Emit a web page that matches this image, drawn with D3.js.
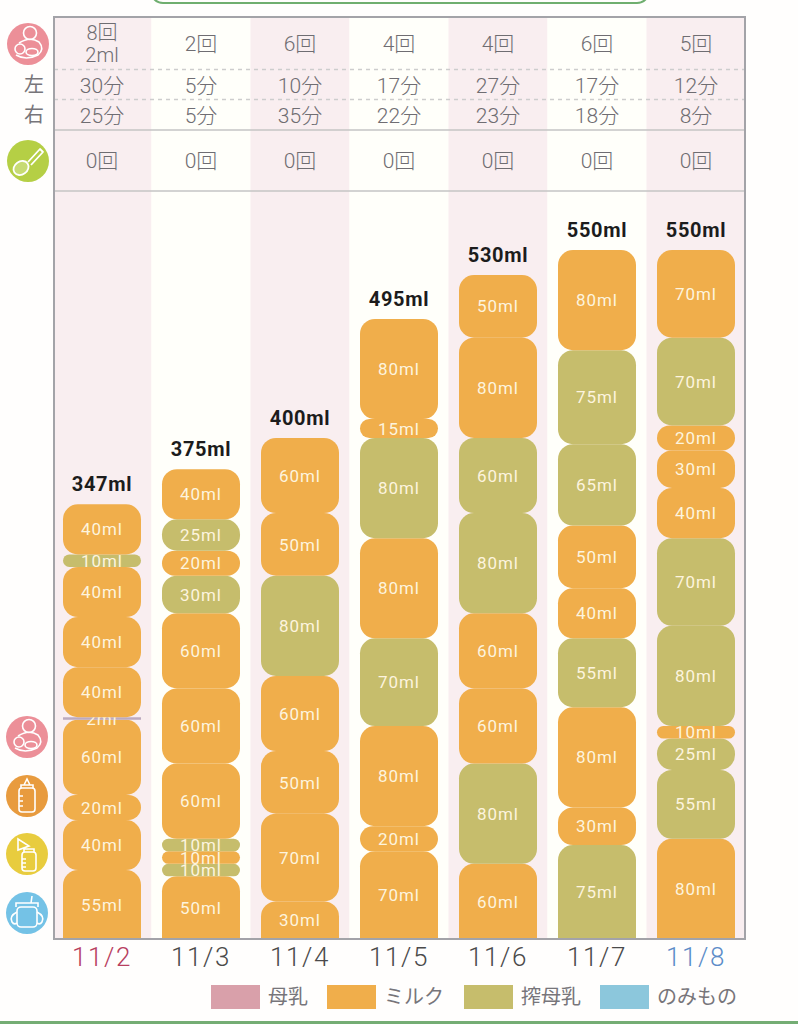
<!DOCTYPE html>
<html>
<head>
<meta charset="utf-8">
<script src="https://cdn.jsdelivr.net/npm/d3@7"></script>
<style>
  html, body { margin: 0; padding: 0; background: #fffefd; }
  svg { display: block; }
  text { font-family: Roboto, "Noto Sans CJK JP", sans-serif; }
</style>
</head>
<body>
<div id="chart"></div>
<script>
// data
var dates = ['11/2', '11/3', '11/4', '11/5', '11/6', '11/7', '11/8'];
var nursingCounts = ['8回', '2回', '6回', '4回', '4回', '6回', '5回'];
var leftMinutes = ['30分', '5分', '10分', '17分', '27分', '17分', '12分'];
var rightMinutes = ['25分', '5分', '35分', '22分', '23分', '18分', '8分'];
var foodCounts = ['0回', '0回', '0回', '0回', '0回', '0回', '0回'];
var totals = [347, 375, 400, 495, 530, 550, 550];

// feeds of each day, from the bottom of the stack up
// m = milk, o = expressed milk, p = breast milk
var values = [
  [55, 40, 20, 60, 2, 40, 40, 40, 10, 40],
  [50, 10, 10, 10, 60, 60, 60, 30, 20, 25, 40],
  [30, 70, 50, 60, 80, 50, 60],
  [70, 20, 80, 70, 80, 80, 15, 80],
  [60, 80, 60, 60, 80, 60, 80, 50],
  [75, 30, 80, 55, 40, 50, 65, 75, 80],
  [80, 55, 25, 10, 80, 70, 40, 30, 20, 70, 70]
];
var kinds = [
  ['m', 'm', 'm', 'm', 'p', 'm', 'm', 'm', 'o', 'm'],
  ['m', 'o', 'm', 'o', 'm', 'm', 'm', 'o', 'm', 'o', 'm'],
  ['m', 'm', 'm', 'm', 'o', 'm', 'm'],
  ['m', 'm', 'm', 'o', 'm', 'o', 'm', 'm'],
  ['m', 'o', 'm', 'm', 'o', 'o', 'm', 'm'],
  ['o', 'm', 'm', 'o', 'm', 'm', 'o', 'o', 'm'],
  ['m', 'o', 'o', 'm', 'o', 'o', 'm', 'm', 'm', 'o', 'm']
];
var legendLabels = ['母乳', 'ミルク', '搾母乳', 'のみもの'];
var legendKinds = ['p', 'm', 'o', 'd'];

var colors = { p: '#d9a0aa', m: '#f0ae4b', o: '#c6bd6c', d: '#8cc7dc' };

var svgWidth = 798;
var svgHeight = 1024;
var plot = { left: 54, right: 745, top: 17, food: 130, chart: 191, bottom: 939 };
var barWidth = 78;

var svg = d3.select('#chart').append('svg')
  .attr('width', svgWidth)
  .attr('height', svgHeight);

var xScale = d3.scaleBand().domain(dates).range([52.5, 745.5]);
var yScale = d3.scaleLinear().domain([0, 550]).range([plot.bottom, 250]);
var xCenter = d => xScale(d) + xScale.bandwidth() / 2;

svg.append('defs').append('clipPath').attr('id', 'plotClip')
  .append('rect')
  .attr('x', plot.left).attr('y', plot.top)
  .attr('width', plot.right - plot.left).attr('height', plot.bottom - plot.top);

// green frames of the surrounding app screen
svg.append('rect')
  .attr('x', 151).attr('y', -30).attr('width', 498).attr('height', 33).attr('rx', 12)
  .attr('fill', 'none').attr('stroke', '#6fae6f').attr('stroke-width', 2);
svg.append('rect')
  .attr('x', 0).attr('y', 1021).attr('width', svgWidth).attr('height', 3)
  .attr('fill', '#74ad74');

// column stripes
var plotGroup = svg.append('g').attr('clip-path', 'url(#plotClip)');
plotGroup.selectAll('rect.stripe').data(dates).enter().append('rect')
  .attr('class', 'stripe')
  .attr('x', d => xScale(d))
  .attr('y', plot.top)
  .attr('width', xScale.bandwidth())
  .attr('height', plot.bottom - plot.top)
  .attr('fill', (d, i) => i % 2 === 0 ? '#f9eef0' : '#fffffa');

// stacks, bottom up so that an upper bar covers the overflow of the label below
dates.forEach(function(date, i) {
  var sum = 0;
  var segments = values[i].map(function(v, j) {
    var seg = { value: v, kind: kinds[i][j], y0: sum, y1: sum + v };
    sum += v;
    return seg;
  });
  var dayGroup = plotGroup.append('g');
  var cells = dayGroup.selectAll('g').data(segments).enter().append('g');

  cells.append('rect')
    .attr('x', xCenter(date) - barWidth / 2)
    .attr('y', d => yScale(d.y1))
    .attr('width', barWidth)
    .attr('height', d => yScale(d.y0) - yScale(d.y1) + (d.y0 === 0 ? 16 : 0))
    .attr('rx', d => d.value <= 2 ? 0 : Math.min(15, (yScale(d.y0) - yScale(d.y1)) / 2))
    .attr('fill', d => d.kind === 'p' ? '#bcaabf' : colors[d.kind]);

  cells.append('text')
    .attr('x', xCenter(date))
    .attr('y', d => (yScale(d.y0) + yScale(d.y1)) / 2)
    .attr('dy', '0.36em')
    .attr('text-anchor', 'middle')
    .attr('font-size', 17)
    .attr('letter-spacing', 0.9)
    .attr('fill', '#fdf4de')
    .text(d => d.value + 'ml');
});

// total above each stack
svg.selectAll('text.total').data(dates).enter().append('text')
  .attr('class', 'total')
  .attr('x', d => xCenter(d))
  .attr('y', (d, i) => yScale(totals[i]) - 13)
  .attr('text-anchor', 'middle')
  .attr('font-size', 20)
  .attr('font-weight', 700)
  .attr('letter-spacing', 0.7)
  .attr('fill', '#1c1c1c')
  .text((d, i) => totals[i] + 'ml');

// table rows on top of the chart
function addRow(labels, y, size) {
  svg.append('g').selectAll('text').data(labels).enter().append('text')
    .attr('x', (d, i) => xCenter(dates[i]))
    .attr('y', y)
    .attr('dy', '0.36em')
    .attr('text-anchor', 'middle')
    .attr('font-size', size || 21)
    .attr('font-weight', 300)
    .attr('fill', '#6f6d72')
    .text(d => d);
}
addRow(nursingCounts.map((d, i) => i === 0 ? '' : d), 43);
addRow([nursingCounts[0]], 33, 20);
addRow(['2ml'], 55, 20);
addRow(leftMinutes, 85);
addRow(rightMinutes, 115);
addRow(foodCounts, 160);

[['左', 85], ['右', 115]].forEach(function(r) {
  svg.append('text')
    .attr('x', 34).attr('y', r[1]).attr('dy', '0.36em')
    .attr('text-anchor', 'middle')
    .attr('font-size', 20)
    .attr('fill', '#77757a')
    .text(r[0]);
});

// rules
[69.5, 99.5].forEach(function(y) {
  svg.append('line')
    .attr('x1', plot.left).attr('x2', plot.right).attr('y1', y).attr('y2', y)
    .attr('stroke', '#cdcdcd').attr('stroke-width', 1.5).attr('stroke-dasharray', '4 4');
});
[plot.food, plot.chart].forEach(function(y) {
  svg.append('line')
    .attr('x1', plot.left).attr('x2', plot.right).attr('y1', y).attr('y2', y)
    .attr('stroke', '#c4c4c4').attr('stroke-width', 1.5);
});
svg.append('rect')
  .attr('x', plot.left).attr('y', plot.top)
  .attr('width', plot.right - plot.left).attr('height', plot.bottom - plot.top)
  .attr('fill', 'none').attr('stroke', '#a3a3a8').attr('stroke-width', 2);

// date axis
var xAxis = svg.append('g')
  .attr('transform', `translate(0, ${plot.bottom})`)
  .call(d3.axisBottom(xScale).tickSize(0).tickPadding(9));
xAxis.select('.domain').remove();
xAxis.selectAll('text')
  .attr('font-size', 26)
  .attr('font-family', 'Roboto, sans-serif')
  .attr('font-weight', 300)
  .attr('letter-spacing', 1.6)
  .attr('fill', (d, i) => i === 0 ? '#b8405f' : i === 6 ? '#5c8cc8' : '#4a4a4a');

// legend
var legendX = [211, 327, 464, 600];
var legend = svg.selectAll('g.legend').data(legendLabels).enter().append('g')
  .attr('class', 'legend')
  .attr('transform', (d, i) => `translate(${legendX[i]}, 985)`);
legend.append('rect')
  .attr('width', 49).attr('height', 24)
  .attr('fill', (d, i) => colors[legendKinds[i]]);
legend.append('text')
  .attr('x', 57).attr('y', 12).attr('dy', '0.36em')
  .attr('font-size', 20)
  .attr('fill', '#77757a')
  .text(d => d);

// round side icons
function iconBase(cx, cy, fill) {
  var g = svg.append('g').attr('transform', `translate(${cx}, ${cy})`);
  g.append('circle').attr('r', 21).attr('fill', fill);
  return g.append('g').attr('fill', 'none').attr('stroke', '#fff').attr('stroke-width', 1.6);
}
function motherIcon(cx, cy) {
  var g = iconBase(cx, cy, '#ec8f98');
  g.append('circle').attr('cx', 2).attr('cy', -11).attr('r', 6.5);
  g.append('path').attr('d', 'M-9 -1 Q2 -8 11 -2 Q17 5 10 11 Q-2 17 -12 11');
  g.append('circle').attr('cx', -8).attr('cy', 5).attr('r', 5);
  g.append('ellipse').attr('cx', 4).attr('cy', 8).attr('rx', 6).attr('ry', 3.5);
}
function spoonIcon(cx, cy) {
  var g = iconBase(cx, cy, '#b5cf45').attr('stroke-width', 1.8);
  g.append('ellipse').attr('cx', -7).attr('cy', 7).attr('rx', 8).attr('ry', 6.5)
    .attr('transform', 'rotate(-35 -7 7)').attr('fill', '#fff').attr('fill-opacity', 0.25);
  g.append('path').attr('d', 'M0 1 L12 -12 L15 -9 L3 4').attr('stroke-linejoin', 'round');
}
function bottleIcon(cx, cy) {
  var g = iconBase(cx, cy, '#e89b3e');
  g.append('rect').attr('x', -8).attr('y', -8).attr('width', 16).attr('height', 24).attr('rx', 3);
  g.append('path').attr('d', 'M-6 -8 L-6 -11 L6 -11 L6 -8 M-3 -11 L0 -17 L3 -11');
  g.append('path').attr('d', 'M-8 0 H-4 M-8 5 H-4 M-8 10 H-4');
}
function pumpIcon(cx, cy) {
  var g = iconBase(cx, cy, '#e8cc3e');
  g.append('rect').attr('x', -5).attr('y', -2).attr('width', 14).attr('height', 19).attr('rx', 3);
  g.append('path').attr('d', 'M-3 -2 L-3 -5 L7 -5 L7 -2 M-9 -15 L-9 -4 L2 -8 Z');
  g.append('path').attr('d', 'M-5 5 H-1 M-5 9 H-1 M-5 13 H-1');
}
function cupIcon(cx, cy) {
  var g = iconBase(cx, cy, '#74c2e6');
  g.append('rect').attr('x', -10).attr('y', -6).attr('width', 20).attr('height', 20).attr('rx', 4);
  g.append('path').attr('d', 'M-11 -6 V-10 H11 V-6 M4 -10 L5 -17');
  g.append('path').attr('d', 'M-10 -1 Q-18 3 -15 9 Q-13 12 -10 10 M10 -1 Q18 3 15 9 Q13 12 10 10');
}
motherIcon(28, 44);
spoonIcon(28, 161);
motherIcon(27, 737);
bottleIcon(27, 796);
pumpIcon(27, 854);
cupIcon(27, 913);
</script>
</body>
</html>
